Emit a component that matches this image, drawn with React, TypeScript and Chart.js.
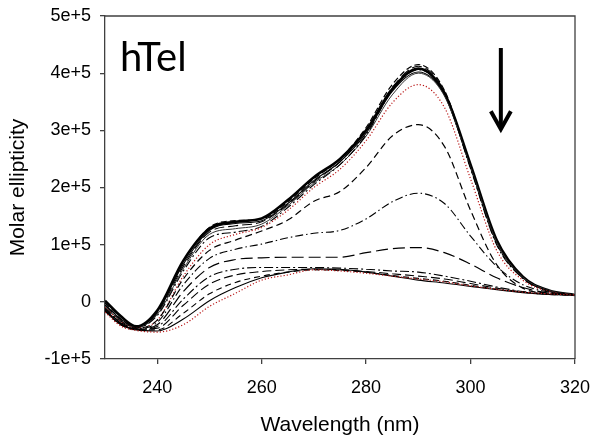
import { useEffect, useRef } from "react";
import { Chart, registerables } from "chart.js";

Chart.register(...registerables);

const wavelengths = [230, 233, 236, 240, 245, 250, 255, 260, 265, 270, 275, 280, 285, 290, 295, 300, 305, 310, 315, 320];

const c1 = [2000, -25000, -43000, -15000, 72000, 128000, 140000, 146000, 178000, 218000, 250000, 300000, 372000, 408000, 365000, 240000, 108000, 44000, 20000, 12000];
const c2 = [-2000, -30000, -45000, -18000, 70000, 130000, 142000, 145000, 175000, 215000, 250000, 305000, 380000, 415000, 370000, 235000, 102000, 42000, 19000, 12000];
const c3 = [-5000, -30000, -44000, -17000, 66000, 125000, 137000, 142000, 172000, 212000, 245000, 295000, 368000, 402000, 362000, 238000, 106000, 43000, 20000, 12000];
const c4 = [-6000, -32000, -45000, -20000, 62000, 122000, 133000, 140000, 170000, 210000, 245000, 300000, 375000, 412000, 368000, 236000, 104000, 42000, 19000, 12000];
const c5 = [-8000, -33000, -45000, -22000, 58000, 118000, 128000, 136000, 168000, 208000, 240000, 290000, 362000, 400000, 360000, 235000, 104000, 43000, 20000, 12000];
const c6 = [-10000, -34000, -45000, -24000, 54000, 112000, 122000, 132000, 165000, 205000, 240000, 292000, 370000, 406000, 365000, 233000, 100000, 41000, 19000, 12000];
const c7 = [-10000, -35000, -46000, -32000, 45000, 100000, 118000, 130000, 160000, 200000, 232000, 282000, 348000, 380000, 340000, 215000, 90000, 38000, 18000, 12000];
const c8 = [-12000, -36000, -46000, -32000, 40000, 90000, 108000, 124000, 143000, 176000, 193000, 235000, 290000, 310000, 272000, 160000, 65000, 24000, 15000, 12000];
const c9 = [-12000, -37000, -47000, -36000, 30000, 76000, 92000, 101000, 112000, 120000, 125000, 145000, 175000, 190000, 172000, 115000, 62000, 30000, 17000, 12000];
const c10 = [-14000, -38000, -48000, -40000, 18000, 60000, 74000, 77000, 78000, 78000, 78000, 86000, 93000, 95000, 86000, 66000, 42000, 25000, 15000, 12000];
const c11 = [-15000, -38000, -48000, -43000, 5000, 44000, 57000, 60000, 60000, 60000, 59000, 57000, 54000, 52000, 45000, 36000, 26000, 18000, 14000, 12000];
const c12 = [-15000, -39000, -48000, -46000, -6000, 31000, 47000, 53000, 56000, 57000, 56000, 53000, 49000, 45000, 40000, 32000, 24000, 17000, 13000, 12000];
const c13 = [-16000, -40000, -49000, -49000, -20000, 14000, 34000, 45000, 52000, 56000, 55000, 52000, 46000, 41000, 36000, 29000, 22000, 17000, 13000, 12000];
const c14 = [-16000, -40000, -49000, -51000, -30000, 2000, 25000, 42000, 52000, 58000, 57000, 52000, 45000, 38000, 33000, 27000, 21000, 16000, 13000, 12000];
const c15 = [-18000, -42000, -50000, -53000, -40000, -8000, 15000, 38000, 47000, 56000, 54000, 50000, 45000, 40000, 35000, 28000, 22000, 17000, 14000, 12000];

const xTicks = [240, 260, 280, 300, 320];
const yTicks = [-100000, 0, 100000, 200000, 300000, 400000, 500000];

const BLACK = "#000000";
const RED = "#b81414";
const AXIS = "#404040";
const FONT = "'Liberation Sans', Arial, sans-serif";

const seriesDefs = [
  { data: c15, color: RED, dash: [1.2, 2], width: 1.2 },
  { data: c14, color: BLACK, dash: [], width: 1.1 },
  { data: c13, color: BLACK, dash: [6, 4], width: 1.1 },
  { data: c12, color: BLACK, dash: [9, 4], width: 1.1 },
  { data: c11, color: BLACK, dash: [9, 3, 2, 3], width: 1.1 },
  { data: c10, color: BLACK, dash: [12, 5], width: 1.2 },
  { data: c9, color: BLACK, dash: [8, 3, 1.5, 3], width: 1.1 },
  { data: c8, color: BLACK, dash: [7, 4], width: 1.2 },
  { data: c7, color: RED, dash: [1.2, 2], width: 1.2 },
  { data: c6, color: BLACK, dash: [9, 3, 2, 3], width: 1.1 },
  { data: c5, color: "#333333", dash: [], width: 1.0 },
  { data: c4, color: BLACK, dash: [10, 4], width: 1.1 },
  { data: c3, color: BLACK, dash: [], width: 1.1 },
  { data: c2, color: BLACK, dash: [6, 3], width: 1.2 },
  { data: c1, color: BLACK, dash: [], width: 2.6 },
];

const extrasPlugin = {
  id: "extras",
  afterDraw(chart: any) {
    const { ctx, chartArea, scales } = chart;
    ctx.save();
    ctx.strokeStyle = AXIS;
    ctx.lineWidth = 1.3;
    ctx.beginPath();
    ctx.moveTo(chartArea.left, chartArea.top);
    ctx.lineTo(chartArea.right, chartArea.top);
    ctx.lineTo(chartArea.right, chartArea.bottom);
    ctx.stroke();
    ctx.fillStyle = "#000";
    ctx.font = "40px Lato, 'Open Sans', sans-serif";
    ctx.textBaseline = "alphabetic";
    ctx.textAlign = "left";
    ctx.fillText("hTel", chartArea.left + 15, chartArea.top + 55);
    const ax = scales.x.getPixelForValue(305.8);
    const ay1 = scales.y.getPixelForValue(444000);
    const ay2 = scales.y.getPixelForValue(302000);
    ctx.strokeStyle = "#000";
    ctx.lineWidth = 4;
    ctx.lineCap = "butt";
    ctx.beginPath();
    ctx.moveTo(ax, ay1);
    ctx.lineTo(ax, ay2 - 2);
    ctx.stroke();
    ctx.lineJoin = "miter";
    ctx.beginPath();
    ctx.moveTo(ax - 10, ay2 - 18);
    ctx.lineTo(ax, ay2);
    ctx.lineTo(ax + 10, ay2 - 18);
    ctx.stroke();
    ctx.restore();
  },
};

export default function App() {
  const ref = useRef<HTMLCanvasElement>(null);
  useEffect(() => {
    document.body.style.margin = "0";
    const chart = new Chart(ref.current as HTMLCanvasElement, {
      type: "line",
      data: {
        datasets: seriesDefs.map((s) => ({
          data: wavelengths.map((w, i) => ({ x: w, y: s.data[i] })),
          borderColor: s.color,
          borderDash: s.dash,
          borderWidth: s.width,
          pointRadius: 0,
          fill: false,
          cubicInterpolationMode: "monotone" as const,
        })),
      },
      options: {
        responsive: false,
        animation: false,
        devicePixelRatio: 1,
        layout: { padding: { left: 0, right: 19, top: 16, bottom: 0 } },
        plugins: { legend: { display: false }, tooltip: { enabled: false } },
        scales: {
          x: {
            type: "linear",
            min: 230,
            max: 320,
            afterBuildTicks: (s: any) => {
              s.ticks = xTicks.map((v) => ({ value: v }));
            },
            afterFit: (s: any) => {
              s.height = 78;
              s.paddingLeft = 0;
              s.paddingRight = 0;
            },
            ticks: {
              font: { family: FONT, size: 18 },
              color: "#000",
              padding: 13,
              maxRotation: 0,
              autoSkip: false,
              callback: (v: any) => String(v),
            },
            grid: { drawOnChartArea: false, drawTicks: true, tickLength: 5, color: AXIS, lineWidth: 1.3 },
            border: { display: true, color: AXIS, width: 1.3 },
            title: {
              display: true,
              text: "Wavelength (nm)",
              color: "#000",
              font: { family: FONT, size: 21 },
              padding: { top: 0, bottom: -1 },
            },
          },
          y: {
            type: "linear",
            min: -100000,
            max: 500000,
            afterBuildTicks: (s: any) => {
              s.ticks = yTicks.map((v) => ({ value: v }));
            },
            afterFit: (s: any) => {
              s.width = 105;
              s.paddingTop = 0;
              s.paddingBottom = 0;
            },
            ticks: {
              font: { family: FONT, size: 18 },
              color: "#000",
              padding: 9,
              autoSkip: false,
              callback: (v: any) => (v === 0 ? "0" : `${v / 100000}e+5`),
            },
            grid: { drawOnChartArea: false, drawTicks: true, tickLength: 5, color: AXIS, lineWidth: 1.3 },
            border: { display: true, color: AXIS, width: 1.3 },
            title: {
              display: true,
              text: "Molar ellipticity",
              color: "#000",
              font: { family: FONT, size: 21 },
              padding: { top: 6, bottom: 0 },
            },
          },
        },
      },
      plugins: [extrasPlugin],
    });
    return () => chart.destroy();
  }, []);
  return (
    <div style={{ position: "absolute", left: 0, top: 0, width: 594, height: 437, background: "#fff" }}>
      <canvas ref={ref} width={594} height={437} style={{ display: "block" }} />
    </div>
  );
}
